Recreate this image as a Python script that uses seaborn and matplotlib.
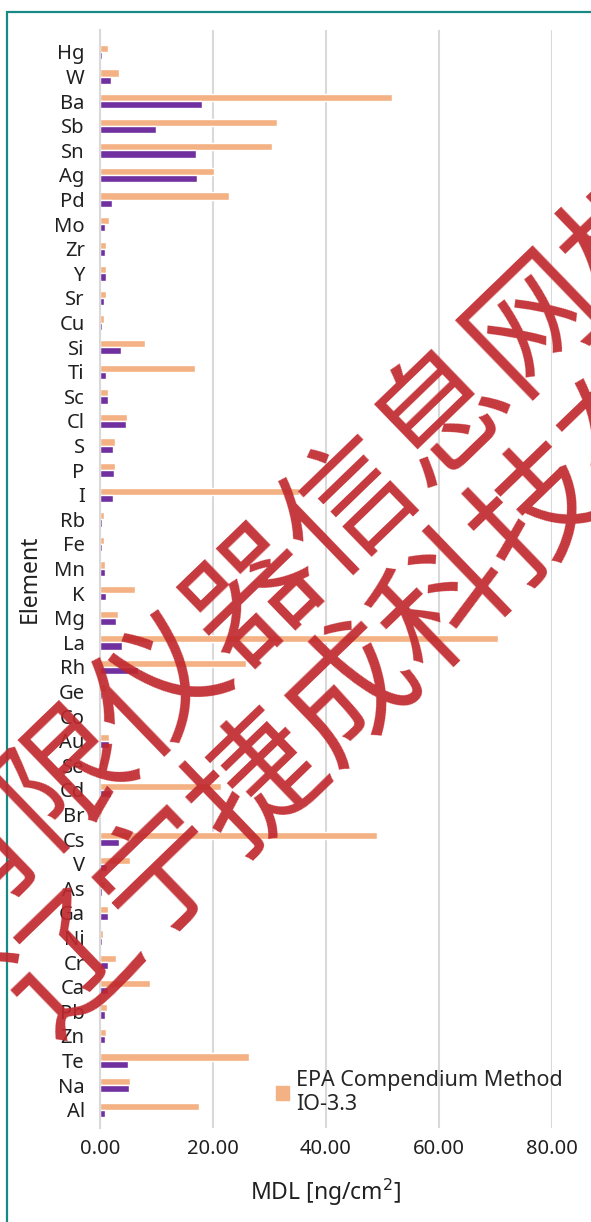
import matplotlib
matplotlib.use("Agg")
import matplotlib.pyplot as plt
from matplotlib.patches import Rectangle, Patch
from matplotlib.ticker import StrMethodFormatter
import pandas as pd
import seaborn as sns

elements = ["Hg", "W", "Ba", "Sb", "Sn", "Ag", "Pd", "Mo", "Zr", "Y", "Sr",
            "Cu", "Si", "Ti", "Sc", "Cl", "S", "P", "I", "Rb", "Fe", "Mn",
            "K", "Mg", "La", "Rh", "Ge", "Co", "Au", "Se", "Cd", "Br", "Cs",
            "V", "As", "Ga", "Ni", "Cr", "Ca", "Pb", "Zn", "Te", "Na", "Al"]

# EPA Compendium Method IO-3.3 MDLs (orange)
epa_mdl = [1.5, 3.4, 51.7, 31.4, 30.4, 20.1, 22.8, 1.6, 1.1, 1.1, 1.1,
           0.65, 7.9, 16.9, 1.5, 4.7, 2.6, 2.6, 35.3, 0.65, 0.65, 0.8,
           6.2, 3.1, 70.5, 25.9, 1.1, 0.1, 1.6, 0.65, 21.5, 0.4, 49.0,
           5.25, 0.8, 1.5, 0.5, 2.9, 8.9, 1.3, 1.0, 26.3, 5.25, 17.5]

# second series (purple), no legend entry in the original
other_mdl = [0.3, 1.9, 18.0, 9.9, 17.0, 17.1, 2.2, 0.8, 0.8, 1.1, 0.65,
             0.3, 3.7, 1.1, 1.35, 4.6, 2.36, 2.5, 2.36, 0.4, 0.3, 0.8,
             1.1, 2.8, 3.95, 6.7, 0.4, 0.05, 1.6, 0.1, 1.95, 0.1, 3.4,
             1.2, 0.4, 1.35, 0.3, 1.35, 1.5, 0.8, 0.8, 5.0, 5.1, 0.9]

series_names = ["EPA Compendium Method\nIO-3.3", "Other"]
colors = ["#F4B183", "#7030A0"]

df = pd.DataFrame({
    "element": elements * 2,
    "mdl": epa_mdl + other_mdl,
    "series": [series_names[0]] * len(elements) + [series_names[1]] * len(elements),
})

sns.set_style("white")
plt.rcParams["font.family"] = ["Noto Sans", "DejaVu Sans"]

W, H = 591, 1222
fig = plt.figure(figsize=(W / 100, H / 100), dpi=100)
ax = fig.add_axes([100 / W, 1 - 1128 / H, (552 - 100) / W, (1128 - 30) / H])

sns.barplot(data=df, y="element", x="mdl", hue="series", order=elements,
            hue_order=series_names, palette=colors, orient="h", width=0.58,
            saturation=1, ax=ax, legend=False)

ax.set_xlim(0, 80)
ax.set_ylim(43.74, -0.894)
ax.set_xticks([0, 20, 40, 60, 80])
ax.xaxis.set_major_formatter(StrMethodFormatter("{x:.2f}"))
ax.grid(axis="x", color="#D9D9D9", linewidth=1.5)
ax.set_axisbelow(True)
for s in ["top", "right", "bottom"]:
    ax.spines[s].set_visible(False)
ax.spines["left"].set_color("#D9D9D9")
ax.spines["left"].set_linewidth(1.5)
ax.tick_params(axis="both", length=0, labelsize=14.5, colors="#202020")
ax.tick_params(axis="x", pad=8)
ax.tick_params(axis="y", pad=11)
ax.set_xlabel("MDL [ng/cm$^2$]", fontsize=16.5, color="#202020", labelpad=13)
ax.set_ylabel("Element", fontsize=16.5, color="#202020", labelpad=9)

ax.legend(handles=[Patch(color=colors[0], label=series_names[0])],
          loc="lower left", bbox_to_anchor=(0.36, 0.0), frameon=False,
          fontsize=15.5, handlelength=0.6, handleheight=0.6,
          handletextpad=0.35, borderaxespad=0.2, labelspacing=0.1)

# chart border (teal), only left and top edges visible in the crop
fig.patches.append(Rectangle((7 / W, -0.5), 2, 0.5 + 1 - 12 / H, fill=False,
                             edgecolor="#178A86", linewidth=1.6,
                             transform=fig.transFigure, figure=fig))

# watermark
wm = dict(fontsize=94, color="#C0282D", alpha=0.92, rotation=44,
          ha="center", va="center", rotation_mode="anchor", weight="medium",
          family=["Noto Sans CJK SC", "DejaVu Sans"], zorder=10)
fig.text(304 / W, 1 - 552 / H, "有限仪器信息网标", **wm)
fig.text(354 / W, 1 - 694 / H, "辽宁捷成科技有", **wm)

fig.savefig("out.png", dpi=100)
